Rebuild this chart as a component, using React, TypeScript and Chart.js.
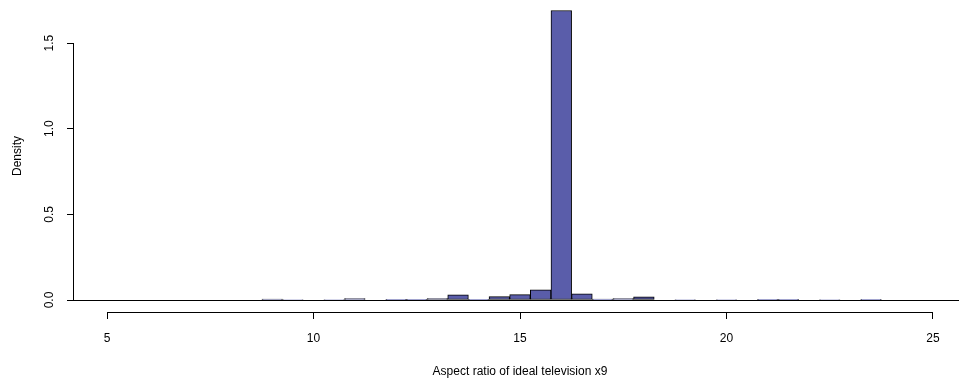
import React, { useEffect, useRef } from 'react';
import { Chart, registerables } from 'chart.js';

Chart.register(...registerables);

// Histogram bin centres (bin width 0.5) and densities
const binCenters = [
  4.5, 5.0, 5.5, 6.0, 6.5, 7.0, 7.5, 8.0, 8.5, 9.0, 9.5, 10.0, 10.5, 11.0, 11.5,
  12.0, 12.5, 13.0, 13.5, 14.0, 14.5, 15.0, 15.5, 16.0, 16.5, 17.0, 17.5, 18.0,
  18.5, 19.0, 19.5, 20.0, 20.5, 21.0, 21.5, 22.0, 22.5, 23.0, 23.5, 24.0, 24.5,
  25.0, 25.5,
];
const density = [
  0, 0, 0, 0, 0, 0, 0, 0, 0, 0.006, 0.003, 0, 0.003, 0.008, 0,
  0.004, 0.004, 0.009, 0.03, 0.004, 0.02, 0.031, 0.06, 1.69, 0.036, 0.005, 0.008, 0.018,
  0, 0.003, 0, 0.003, 0, 0.002, 0.002, 0, 0.003, 0, 0.001, 0, 0,
  0, 0,
];
const xTicks = [5, 10, 15, 20, 25];
const yTicks = [0, 0.5, 1.0, 1.5];
const xTitle = 'Aspect ratio of ideal television x9';
const yTitle = 'Density';

const FONT = 'Liberation Sans, Arial, Helvetica, sans-serif';

const axisLines = {
  id: 'axisLines',
  afterDraw(chart: any) {
    const { ctx, scales, chartArea } = chart;
    const x = scales.x;
    const y = scales.y;
    ctx.save();
    ctx.strokeStyle = '#000';
    ctx.lineWidth = 1;
    ctx.beginPath();
    const yb = Math.round(chartArea.bottom) + 0.5;
    ctx.moveTo(x.getPixelForValue(xTicks[0]), yb);
    ctx.lineTo(x.getPixelForValue(xTicks[xTicks.length - 1]), yb);
    const xl = Math.round(chartArea.left) - 0.5;
    ctx.moveTo(xl, y.getPixelForValue(yTicks[0]));
    ctx.lineTo(xl, y.getPixelForValue(yTicks[yTicks.length - 1]));
    ctx.stroke();
    ctx.restore();
  },
};

export default function App() {
  const ref = useRef<HTMLCanvasElement | null>(null);

  useEffect(() => {
    if (!ref.current) return;
    const chart = new Chart(ref.current, {
      type: 'bar',
      data: {
        datasets: [
          {
            data: binCenters.map((x, i) => ({ x, y: density[i] })),
            backgroundColor: '#5A5DAA',
            borderColor: '#000',
            borderWidth: 1,
            borderSkipped: false,
            barPercentage: 1,
            categoryPercentage: 1,
            grouped: false,
          } as any,
        ],
      },
      options: {
        animation: false,
        responsive: false,
        devicePixelRatio: 1,
        layout: { padding: 0 },
        plugins: { legend: { display: false }, tooltip: { enabled: false } },
        scales: {
          x: {
            type: 'linear',
            min: 4.2,
            max: 25.8,
            offset: false,
            afterBuildTicks: (s: any) => {
              s.ticks = xTicks.map((v) => ({ value: v }));
            },
            afterFit: (s: any) => {
              s.height = 69;
              s.paddingLeft = 0;
              s.paddingRight = 0;
            },
            border: { display: false },
            grid: {
              offset: false,
              drawOnChartArea: false,
              drawTicks: true,
              tickLength: 7,
              color: '#000',
              tickColor: '#000',
            },
            ticks: {
              autoSkip: false,
              maxRotation: 0,
              minRotation: 0,
              padding: 12,
              color: '#000',
              font: { family: FONT, size: 12 },
              callback: (v: any) => String(v),
            },
            title: {
              display: true,
              text: xTitle,
              color: '#000',
              font: { family: FONT, size: 12 },
              padding: { top: 0, bottom: 2 },
            },
          },
          y: {
            type: 'linear',
            min: -0.07,
            max: 1.7513,
            afterBuildTicks: (s: any) => {
              s.ticks = yTicks.map((v) => ({ value: v }));
            },
            afterFit: (s: any) => {
              s.width = 74;
              s.paddingTop = 0;
              s.paddingBottom = 0;
            },
            border: { display: false },
            grid: {
              drawOnChartArea: true,
              drawTicks: true,
              tickLength: 7,
              color: (c: any) => (c.tick && c.tick.value === 0 ? '#000' : 'rgba(0,0,0,0)'),
              tickColor: '#000',
            },
            ticks: {
              autoSkip: false,
              minRotation: 90,
              maxRotation: 90,
              crossAlign: 'center',
              padding: 9,
              color: '#000',
              font: { family: FONT, size: 12 },
              callback: (v: any) => Number(v).toFixed(1),
            },
            title: {
              display: true,
              text: yTitle,
              color: '#000',
              font: { family: FONT, size: 12 },
              padding: { top: 10, bottom: 0 },
            },
          },
        },
      },
      plugins: [axisLines],
    });
    return () => chart.destroy();
  }, []);

  return (
    <div
      style={{
        position: 'fixed',
        left: 0,
        top: 0,
        width: 959,
        height: 381,
        overflow: 'hidden',
        background: '#fff',
      }}
    >
      <canvas ref={ref} width={966} height={381} style={{ display: 'block' }} />
    </div>
  );
}
